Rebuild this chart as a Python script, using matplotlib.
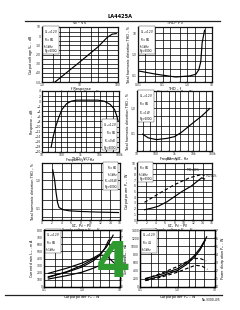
import matplotlib
matplotlib.use("Agg")
import matplotlib.pyplot as plt
from matplotlib.ticker import LogLocator, NullFormatter, FuncFormatter

# ---------------- data ----------------
# 1: Vo - Vin
vin_mv = [2.2, 5, 10, 20, 30, 40, 52, 70, 90]
vo_db = [-50, -38, -28, -17.6, -11.6, -6.2, -1.4, 2.2, 2.8]
# 2: THD - Po
po_w_2 = [0.0107, 0.056, 0.34, 1.26, 2.2, 2.9, 3.5, 4.0, 5.0]
thd_2 = [0.166, 0.116, 0.086, 0.097, 0.116, 0.187, 0.45, 3.7, 14]
# 3: frequency response
freq_3 = [30, 38, 52, 75, 110, 190, 330, 630, 7900, 17000, 35000, 58000, 75000, 90000]
resp_db = [-18, -14, -9.9, -6.3, -3.2, -1.0, 0.0, 0.4, 0.4, 0.0, -1.3, -3.2, -5.6, -7.8]
# 4: THD - f
freq_4 = [20, 40, 110, 400, 1000, 2300, 7600, 27500, 76000]
thd_4 = [0.094, 0.067, 0.057, 0.064, 0.075, 0.11, 0.23, 0.49, 1.0]
# 5: THD - Vcc
vcc_5 = [2.2, 2.6, 2.9, 3.2, 3.5, 4.3, 5.6, 7.7, 11.2, 15.7]
thd_5 = [2.3, 1.0, 0.35, 0.16, 0.11, 0.092, 0.084, 0.080, 0.076, 0.073]
# 6: Po - Vcc
vcc_6 = [1.6, 4.8, 8.0, 11.2, 13.8, 14.4]
po_thd10 = [3.1, 4.7, 6.2, 7.4, 8.0, 7.8]
vcc_6s = [1.6, 3.2, 4.5, 6.4, 8.0, 9.6, 11.5, 13.8, 14.4]
po_thd1 = [1.8, 2.1, 2.4, 3.2, 4.1, 5.0, 5.9, 7.4, 7.2]
# 7: Icc, Pd - Po (set 1)
po_7 = [0.13, 0.4, 1.0, 2.0, 3.0, 4.4, 6.6]
icc_7a = [192, 264, 336, 408, 464, 560, 728]
po_7b = [0.13, 0.4, 1.0, 2.0, 3.0, 4.0, 5.0]
icc_7b = [144, 208, 280, 368, 448, 544, 656]
po_7p = [0.13, 0.4, 1.0, 2.0, 3.0, 4.4, 6.3, 8.3]
pd_7a = [1.36, 2.16, 3.04, 3.92, 4.48, 4.40, 3.60, 3.04]
po_7q = [0.13, 0.4, 1.0, 2.0, 3.0, 4.4, 6.3]
pd_7b = [1.12, 1.60, 2.08, 2.64, 3.04, 2.96, 2.56]
# 8: Icc, Pd - Po (set 2)
po_8 = [0.14, 0.4, 1.0, 1.7, 2.8, 4.0, 6.0]
icc_8a = [210, 322, 448, 588, 770, 952, 1232]
po_8b = [0.14, 0.4, 1.0, 1.7, 2.8, 4.0, 5.5]
icc_8b = [168, 280, 406, 546, 728, 910, 1148]
po_8p = [0.14, 0.4, 1.0, 1.7, 2.7, 4.0, 5.8]
pd_8a = [0.98, 1.75, 2.52, 3.08, 3.50, 3.50, 3.22]
po_8q = [0.14, 0.4, 1.0, 1.7, 3.0, 4.4, 6.3]
pd_8b = [0.77, 1.26, 1.82, 2.24, 2.66, 2.59, 2.17]

W, H = 240, 310
fig = plt.figure(figsize=(2.4, 3.1), dpi=100)
fig.patch.set_facecolor("white")

FS = 2.2
LW = 0.85


def rect(l, t, r, b):
    return [l / W, 1 - b / H, (r - l) / W, (b - t) / H]


def gridlines(ax):
    x0, x1 = ax.get_xlim()
    y0, y1 = ax.get_ylim()
    xs = list(ax.xaxis.get_majorticklocs()) + list(ax.xaxis.get_minorticklocs())
    ys = list(ax.yaxis.get_majorticklocs()) + list(ax.yaxis.get_minorticklocs())
    for v in xs:
        if x0 < v < x1:
            ax.axvline(v, color="black", lw=0.7, alpha=0.75, zorder=1)
    for v in ys:
        if y0 < v < y1:
            ax.axhline(v, color="black", lw=0.7, alpha=0.75, zorder=1)


def style(ax, title, xlabel, ylabel):
    for s in ax.spines.values():
        s.set_linewidth(0.9)
        s.set_color("#111111")
    ax.tick_params(axis="both", which="both", labelsize=FS, length=1, width=0.3,
                   pad=0.7, colors="#222222", direction="in")
    gridlines(ax)
    ax.set_title(title, fontsize=2.6, pad=0.8)
    ax.set_xlabel(xlabel, fontsize=2.4, labelpad=0.6)
    ax.set_ylabel(ylabel, fontsize=2.4, labelpad=0.6)


def logaxis(axis, subs=(2, 5)):
    axis.set_minor_locator(LogLocator(base=10, subs=subs))
    axis.set_minor_formatter(NullFormatter())


def note(ax, x, y, txt, ha="left", va="top"):
    ax.text(x, y, txt, transform=ax.transAxes, fontsize=1.9, ha=ha, va=va,
            linespacing=1.1, zorder=5,
            bbox=dict(boxstyle="square,pad=0.3", fc="white", ec="#333333", lw=0.3))


fmt = FuncFormatter(lambda v, p: ("%g" % v) if v < 1 else ("%.1f" % v if v < 10 else "%d" % v))
fmtk = FuncFormatter(lambda v, p: ("%dk" % (v / 1000)) if v >= 1000 else "%d" % v)

# header
fig.text(0.5, 1 - 17 / H, "LA4425A", fontsize=3.6, fontweight="bold", ha="center", va="center")
fig.add_artist(plt.Line2D([25 / W, 220 / W], [1 - 21 / H, 1 - 21 / H], color="#222222", lw=0.9))
fig.add_artist(plt.Line2D([5 / W, 222 / W], [1 - 295 / H, 1 - 295 / H], color="#222222", lw=0.9))
fig.text(220 / W, 1 - 300 / H, "No.3300-4/5", fontsize=2.2, ha="right", va="center")

# 1
ax = fig.add_axes(rect(42, 27, 118, 82))
ax.plot(vin_mv, vo_db, color="black", lw=LW, zorder=3)
ax.set_xscale("log"); ax.set_xlim(1, 100); ax.set_ylim(-50, 10)
logaxis(ax.xaxis, (2, 3, 5)); ax.xaxis.set_major_formatter(fmt)
ax.set_yticks(range(-50, 11, 5)); ax.set_yticklabels([str(v) if v % 10 == 0 else "" for v in range(-50, 11, 5)])
style(ax, r"V$_O$ – V$_{IN}$", r"Input voltage V$_{IN}$ – mV", r"Output voltage V$_O$ – dB")
note(ax, 0.03, 0.97, "V$_{CC}$=12V\nR$_L$=8Ω\nf=1kHz\nRg=600Ω")

# 2
ax = fig.add_axes(rect(138, 27, 212, 82))
ax.plot(po_w_2, thd_2, color="black", lw=LW, zorder=3)
ax.set_xscale("log"); ax.set_yscale("log")
ax.set_xlim(0.01, 10); ax.set_ylim(0.05, 20)
logaxis(ax.xaxis); logaxis(ax.yaxis)
ax.xaxis.set_major_formatter(fmt); ax.yaxis.set_major_formatter(fmt)
style(ax, r"THD – P$_O$", r"Output power P$_O$ – W", "Total harmonic distortion THD – %")
note(ax, 0.03, 0.97, "V$_{CC}$=12V\nR$_L$=8Ω\nf=1kHz\nRg=600Ω")

# 3
ax = fig.add_axes(rect(42, 91, 119, 152))
ax.plot(freq_3, resp_db, color="black", lw=LW, zorder=3)
ax.set_xscale("log"); ax.set_xlim(10, 100000); ax.set_ylim(-20, 4)
logaxis(ax.xaxis); ax.xaxis.set_major_formatter(fmtk)
ax.set_yticks(range(-20, 5, 2))
style(ax, "f Response", "Frequency f – Hz", "Response – dB")
note(ax, 0.97, 0.04, "V$_{CC}$=12V\nR$_L$=8Ω\nP$_O$=0dB\nRg=600Ω", ha="right", va="bottom")

# 4
ax = fig.add_axes(rect(137, 91, 212, 151))
ax.plot(freq_4, thd_4, color="black", lw=LW, zorder=3)
ax.set_xscale("log"); ax.set_yscale("log")
ax.set_xlim(10, 100000); ax.set_ylim(0.02, 5)
logaxis(ax.xaxis); logaxis(ax.yaxis)
ax.xaxis.set_major_formatter(fmtk); ax.yaxis.set_major_formatter(fmt)
style(ax, "THD – f", "Frequency f – Hz", "Total harmonic distortion THD – %")
note(ax, 0.03, 0.97, "V$_{CC}$=12V\nR$_L$=8Ω\nP$_O$=1W\nRg=600Ω")

# 5
ax = fig.add_axes(rect(42, 163, 120, 220))
ax.plot(vcc_5, thd_5, color="black", lw=LW, zorder=3)
ax.set_yscale("log"); ax.set_xlim(0, 16); ax.set_ylim(0.04, 4)
logaxis(ax.yaxis); ax.yaxis.set_major_formatter(fmt)
ax.set_xticks(range(0, 17, 2))
style(ax, r"THD – V$_{CC}$", r"Supply voltage V$_{CC}$ – V", "Total harmonic distortion THD – %")
note(ax, 0.97, 0.97, "R$_L$=8Ω\nf=1kHz\nP$_O$=0.5W\nRg=600Ω", ha="right")

# 6
ax = fig.add_axes(rect(137, 163, 212, 220))
ax.plot(vcc_6, po_thd10, color="black", lw=LW, ls=(0, (3, 2)), zorder=3)
ax.plot(vcc_6s, po_thd1, color="black", lw=LW, zorder=3)
ax.set_xlim(0, 16); ax.set_ylim(0, 10)
ax.set_xticks(range(0, 17, 2)); ax.set_yticks(range(0, 11, 1))
style(ax, r"P$_O$ – V$_{CC}$", r"Supply voltage V$_{CC}$ – V", r"Output power P$_O$ – W")
note(ax, 0.03, 0.97, "R$_L$=8Ω\nf=1kHz\nRg=600Ω")
ax.text(13.2, 8.6, "THD=10%", fontsize=1.8, ha="right")
ax.text(14.6, 7.5, "THD=1%", fontsize=1.8, ha="left")

# 7
ax = fig.add_axes(rect(44, 230, 120, 287))
ax.plot(po_7, icc_7a, color="black", lw=LW, zorder=3)
ax.plot(po_7b, icc_7b, color="black", lw=LW, zorder=3)
ax.set_xscale("log"); ax.set_xlim(0.1, 10); ax.set_ylim(0, 800)
logaxis(ax.xaxis, (2, 3, 5)); ax.xaxis.set_major_formatter(fmt)
ax.set_yticks(range(0, 801, 100))
style(ax, r"I$_{CC}$, P$_d$ – P$_O$", r"Output power P$_O$ – W", r"Current drain I$_{CC}$ – mA")
note(ax, 0.03, 0.97, "V$_{CC}$=12V\nR$_L$=8Ω\nf=1kHz")
ax2 = ax.twinx()
ax2.plot(po_7p, pd_7a, color="black", lw=LW)
ax2.plot(po_7q, pd_7b, color="black", lw=LW)
ax2.set_ylim(0, 8)
ax2.tick_params(labelsize=1.9, length=1, width=0.3, pad=0.5, direction="in")
ax2.set_ylabel(r"P$_d$ – W", fontsize=2.0, labelpad=0.3)
for s in ax2.spines.values():
    s.set_linewidth(0.9)

# 8
ax = fig.add_axes(rect(140, 230, 215, 287))
ax.plot(po_8, icc_8a, color="black", lw=LW, zorder=3)
ax.plot(po_8b, icc_8b, color="black", lw=LW, zorder=3)
ax.set_xscale("log"); ax.set_xlim(0.1, 10); ax.set_ylim(0, 1400)
logaxis(ax.xaxis, (2, 3, 5)); ax.xaxis.set_major_formatter(fmt)
ax.set_yticks(range(0, 1401, 200))
style(ax, r"I$_{CC}$, P$_d$ – P$_O$", r"Output power P$_O$ – W", r"Current drain I$_{CC}$ – mA")
ax.yaxis.label.set_size(2.0)
note(ax, 0.03, 0.97, "V$_{CC}$=12V\nR$_L$=4Ω\nf=1kHz")
ax2 = ax.twinx()
ax2.plot(po_8p, pd_8a, color="black", lw=LW, ls=(0, (3, 2)))
ax2.plot(po_8q, pd_8b, color="black", lw=LW, ls=(0, (3, 2)))
ax2.set_ylim(0, 7)
ax2.tick_params(labelsize=FS, length=1, width=0.3, pad=0.7, direction="in")
ax2.set_ylabel(r"Power dissipation P$_d$ – W", fontsize=2.4, labelpad=0.6)
for s in ax2.spines.values():
    s.set_linewidth(0.9)

# page number overlay
fig.text(113 / W, 1 - 263 / H, "4", fontsize=36, fontweight="bold", color="#2f9a2f",
         ha="center", va="center")

fig.savefig("out.png", dpi=100, facecolor="white")
